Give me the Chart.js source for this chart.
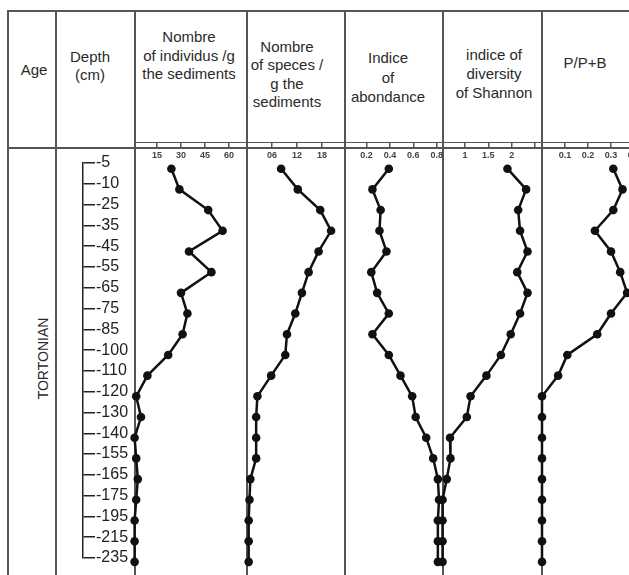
<!DOCTYPE html>
<html>
<head>
<meta charset="utf-8">
<script src="https://cdn.jsdelivr.net/npm/chart.js@4.4.0/dist/chart.umd.min.js"></script>
<style>
  html, body { margin: 0; padding: 0; background: #fff; }
  #sheet { position: relative; width: 629px; height: 575px; overflow: hidden; background: #fff;
           font-family: "Liberation Sans", Arial, sans-serif; color: #2a2a2a; }
  .rule { position: absolute; background: #555; }
  .head { position: absolute; width: 130px; text-align: center; font-size: 15px; white-space: nowrap; }
  canvas { position: absolute; }
</style>
</head>
<body>
<div id="sheet">
  <!-- table frame -->
  <div class="rule" style="left:7px;top:10px;width:622px;height:2px"></div>
  <div class="rule" style="left:7px;top:147px;width:622px;height:2px"></div>
  <div class="rule" style="left:134px;top:142px;width:495px;height:1px"></div>
  <div class="rule" style="left:7px;top:10px;width:2px;height:565px"></div>
  <div class="rule" style="left:55px;top:10px;width:2px;height:565px"></div>
  <div class="rule" style="left:134px;top:10px;width:2px;height:565px"></div>
  <div class="rule" style="left:246px;top:10px;width:2px;height:565px"></div>
  <div class="rule" style="left:344px;top:10px;width:2px;height:565px"></div>
  <div class="rule" style="left:442px;top:10px;width:2px;height:565px"></div>
  <div class="rule" style="left:541px;top:10px;width:2px;height:565px"></div>

  <!-- column headers -->
  <div class="head" style="left:-31px;top:60px;line-height:19px">Age</div>
  <div class="head" style="left:25px;top:48px;line-height:18px">Depth<br>(cm)</div>
  <div class="head" style="left:124px;top:28px;line-height:18.5px">Nombre<br>of individus /g<br>the sediments</div>
  <div class="head" style="left:222px;top:38px;line-height:18.3px">Nombre<br>of speces /<br>g the<br>sediments</div>
  <div class="head" style="left:323px;top:48px;line-height:19.5px">Indice<br>of<br>abondance</div>
  <div class="head" style="left:429px;top:45px;line-height:19px">indice of<br>diversity<br>of Shannon</div>
  <div class="head" style="left:520px;top:53px;line-height:19px">P/P+B</div>

  <div class="head" style="left:-22px;top:349px;line-height:19px;font-size:14px;transform:rotate(-90deg)">TORTONIAN</div>
</div>

<script>
// samples, top to bottom
const depthLabels = ['-5', '-10', '-25', '-35', '-45', '-55', '-65', '-75', '-85', '-100',
                     '-110', '-120', '-130', '-140', '-155', '-165', '-175', '-195', '-215', '-235'];

const individus = [24, 29, 47, 56, 35, 49, 30, 34, 31, 22, 9, 2, 5, 1, 2, 3, 2, 1, 1, 1];
const especes   = [8.2, 12.2, 17.6, 20.2, 17.2, 14.8, 13.2, 11.6, 9.6, 9.2,
                   5.8, 2.5, 2.2, 2.2, 2.2, 0.8, 0.6, 0.4, 0.4, 0.4];
const abondance = [0.39, 0.25, 0.32, 0.31, 0.37, 0.24, 0.29, 0.39, 0.25, 0.39,
                   0.49, 0.59, 0.62, 0.71, 0.77, 0.81, 0.82, 0.81, 0.81, 0.81];
const shannon   = [1.91, 2.31, 2.14, 2.18, 2.34, 2.12, 2.34, 2.18, 1.98, 1.77,
                   1.46, 1.12, 1.04, 0.68, 0.69, 0.61, 0.52, 0.52, 0.52, 0.52];
const ppb       = [0.31, 0.35, 0.31, 0.23, 0.30, 0.34, 0.37, 0.30, 0.24, 0.11,
                   0.07, 0, 0, 0, 0, 0, 0, 0, 0, 0];

// top axis ticks
const ticksIndividus = [15, 30, 45, 60];
const labelsIndividus = ['15', '30', '45', '60'];
const ticksEspeces = [6, 12, 18];
const labelsEspeces = ['06', '12', '18'];
const ticksAbondance = [0.2, 0.4, 0.6, 0.8];
const labelsAbondance = ['0.2', '0.4', '0.6', '0.8'];
const ticksShannon = [1, 1.5, 2, 2.5];
const labelsShannon = ['1', '1.5', '2', ''];
const ticksPpb = [0.1, 0.2, 0.3, 0.4];
const labelsPpb = ['0.1', '0.2', '0.3', '0.4'];

Chart.defaults.font.family = '"Liberation Sans", Arial, sans-serif';

const sheet = document.getElementById('sheet');
const INK = '#111';
const RULE = '#555';
const PAD = 9;          // room for points sitting on the column borders
const AREA_TOP = 148;
const AREA_BOTTOM = 573;
const AXIS_H = 20;

function addCanvas(left, top, w, h) {
  const c = document.createElement('canvas');
  c.width = w;
  c.height = h;
  c.style.left = left + 'px';
  c.style.top = top + 'px';
  sheet.appendChild(c);
  return c;
}

function panel(left, right, min, max, values, tickVals, tickLabels) {
  const c = addCanvas(left - PAD, AREA_TOP - AXIS_H, right - left + 2 * PAD, AREA_BOTTOM - AREA_TOP + AXIS_H);
  new Chart(c, {
    type: 'line',
    data: {
      datasets: [{
        data: values.map((v, i) => ({ x: v, y: i })),
        borderColor: INK,
        borderWidth: 2.5,
        pointRadius: 4.3,
        pointBackgroundColor: INK,
        pointBorderWidth: 0,
        tension: 0,
        clip: false
      }]
    },
    options: {
      responsive: false,
      animation: false,
      events: [],
      layout: { padding: { left: PAD, right: PAD, top: 0, bottom: 0 } },
      plugins: { legend: { display: false }, tooltip: { enabled: false } },
      scales: {
        x: {
          type: 'linear',
          position: 'top',
          min: min,
          max: max,
          afterBuildTicks: s => { s.ticks = tickVals.map(v => ({ value: v })); },
          afterFit: s => { s.height = AXIS_H; },
          grid: { drawOnChartArea: false, tickLength: 6, color: RULE, lineWidth: 1.5 },
          border: { color: RULE, width: 2 },
          ticks: {
            callback: (v, i) => tickLabels[i],
            mirror: true,   // labels sit under the axis line, as in the scan
            padding: 2,
            maxRotation: 0,
            autoSkip: false,
            color: '#444',
            font: { size: 9, weight: 'bold' }
          }
        },
        y: { type: 'linear', display: false, reverse: true, min: -1, max: 19.33 }
      }
    }
  });
}

// depth scale in its own column
function depthAxis() {
  const first = 163, last = 558, axisX = 83, axisW = 60;
  const c = addCanvas(40, first - 12, axisX - 40 + axisW, last - first + 24);
  new Chart(c, {
    type: 'line',
    data: { labels: [], datasets: [] },
    options: {
      responsive: false,
      animation: false,
      events: [],
      layout: { padding: { top: 12, bottom: 12, left: 0, right: 0 } },
      plugins: { legend: { display: false }, tooltip: { enabled: false } },
      scales: {
        x: { display: false },
        y: {
          type: 'category',
          labels: depthLabels,
          position: 'right',
          offset: false,
          afterFit: s => { s.width = axisW; },
          grid: { drawOnChartArea: false, tickLength: 12, color: '#222', lineWidth: 1.5 },
          border: { color: '#222', width: 1.5 },
          ticks: { padding: 1, autoSkip: false, color: '#222', font: { size: 16 } }
        }
      }
    }
  });
}

depthAxis();
panel(135, 247, 1.25, 71.25, individus, ticksIndividus, labelsIndividus);
panel(247, 345, 0, 23.55, especes, ticksEspeces, labelsEspeces);
panel(345, 443, 0.015, 0.854, abondance, ticksAbondance, labelsAbondance);
panel(443, 542, 0.53, 2.65, shannon, ticksShannon, labelsShannon);
panel(542, 660, 0, 0.513, ppb, ticksPpb, labelsPpb);
</script>
</body>
</html>
